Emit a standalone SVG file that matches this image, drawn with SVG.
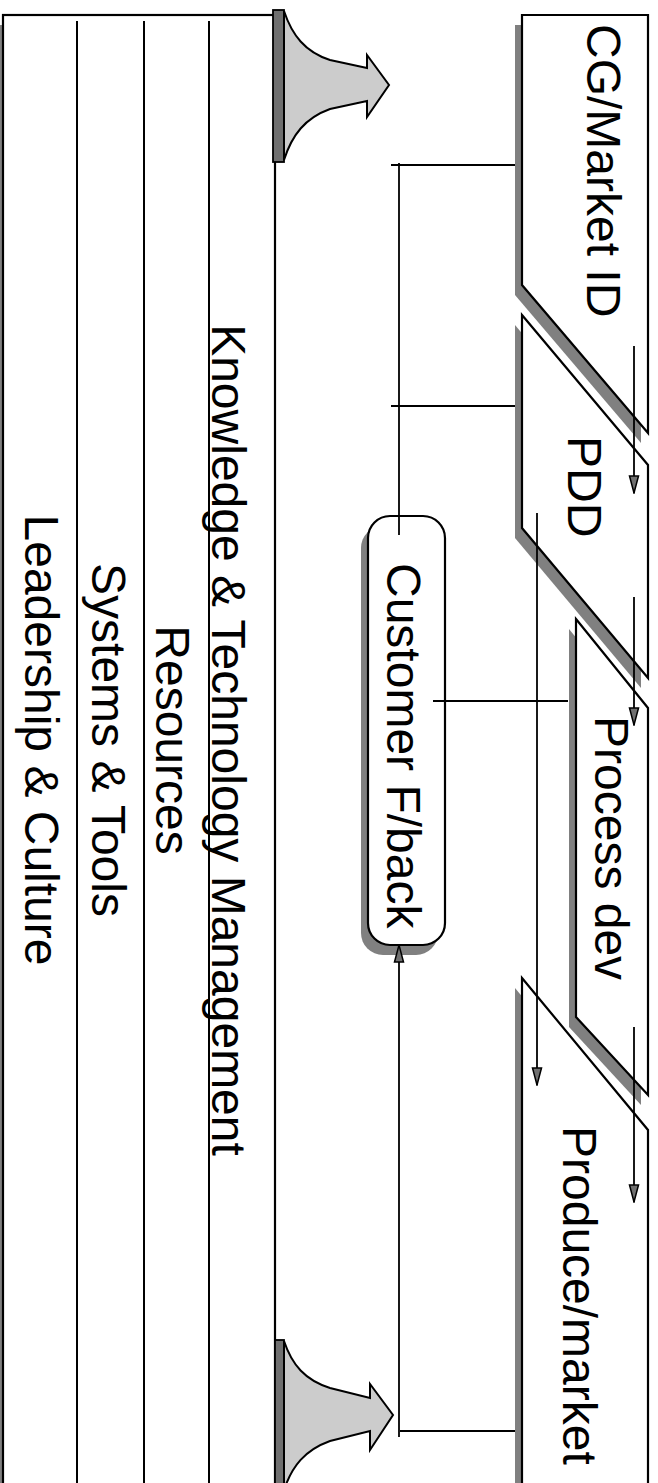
<svg xmlns="http://www.w3.org/2000/svg" width="658" height="1483" viewBox="0 0 658 1483">
<defs>
<style>
.box{fill:#fff;stroke:#000;stroke-width:2.2;stroke-linejoin:miter}
.shadow{fill:#808080;stroke:none}
.lbl{font-family:"Liberation Sans",Arial,sans-serif;font-size:48px;fill:#000}
.sep{stroke:#000;stroke-width:2;fill:none}
.bar{fill:#707070;stroke:#000;stroke-width:1.8}
.funnel{fill:#cccccc;stroke:#000;stroke-width:2;stroke-linejoin:miter}
.conn{stroke:#000;stroke-width:1.8;fill:none}
.arr{marker-end:url(#ah)}
</style>
<marker id="ah" markerUnits="userSpaceOnUse" viewBox="0 0 19 12" refX="18" refY="6" markerWidth="19" markerHeight="12" orient="auto">
<path d="M1,1.5 L18,6 L1,10.5 Z" fill="#707070" stroke="#000" stroke-width="1.5"/>
</marker>
</defs>
<rect width="658" height="1483" fill="#fff"/>

<g id="foundation">
<rect class="shadow" x="-4" y="25" width="272" height="1480"/>
<rect class="box" x="3" y="15" width="272" height="1490"/>
<line class="sep" x1="77" y1="21" x2="77" y2="1490"/>
<line class="sep" x1="144" y1="21" x2="144" y2="1490"/>
<line class="sep" x1="209" y1="21" x2="209" y2="1490"/>
<text class="lbl" text-anchor="middle" transform="translate(212,740) rotate(90)">Knowledge &amp; Technology Management</text>
<text class="lbl" text-anchor="middle" transform="translate(156,740) rotate(90)">Resources</text>
<text class="lbl" text-anchor="middle" transform="translate(92,740) rotate(90)">Systems &amp; Tools</text>
<text class="lbl" text-anchor="middle" transform="translate(25,740) rotate(90)">Leadership &amp; Culture</text>
</g>

<g id="arrow-top">
<rect class="bar" x="273" y="10" width="11" height="152"/>
<path class="funnel" d="M284,11 C292,35 305,52 330,60 L367,68 L367,55 L389,85 L367,117 L367,101 L330,109 C305,118 292,135 284,160 Z"/>
</g>

<g id="arrow-bottom">
<rect class="bar" x="275" y="1340" width="9" height="160"/>
<path class="funnel" d="M284,1341 C292,1365 305,1380 330,1388 L370,1398 L370,1384 L393,1415 L370,1450 L370,1431 L330,1441 C305,1450 292,1466 284,1490 Z"/>
</g>

<g id="cg-market-id">
<polygon class="shadow" points="515,25 641,25 641,443 515,295"/>
<polygon class="box" points="522,15 648,15 648,433 522,285"/>
<text class="lbl" transform="translate(587,24) rotate(90)">CG/Market ID</text>
</g>

<g id="pdd">
<polygon class="shadow" points="515,325 641,475 641,688 515,538"/>
<polygon class="box" points="522,315 648,465 648,678 522,528"/>
<text class="lbl" transform="translate(568,436) rotate(90)">PDD</text>
</g>

<g id="process-dev">
<polygon class="shadow" points="569,629 641,718 641,1105 569,1027"/>
<polygon class="box" points="576,619 648,708 648,1095 576,1017"/>
<text class="lbl" transform="translate(595,716) rotate(90)">Process dev</text>
</g>

<g id="produce-market">
<polygon class="shadow" points="515,988 641,1140 641,1500 515,1500"/>
<polygon class="box" points="522,978 648,1130 648,1500 522,1500"/>
<text class="lbl" transform="translate(563,1126) rotate(90)">Produce/market</text>
</g>

<g id="customer-feedback">
<rect class="shadow" x="361" y="526" width="77" height="429" rx="22" ry="22"/>
<rect class="box" x="368" y="516" width="77" height="429" rx="22" ry="22"/>
<text class="lbl" transform="translate(387,563) rotate(90)">Customer F/back</text>
</g>

<g id="connectors">
<line class="conn" x1="391" y1="165" x2="515" y2="165"/>
<line class="conn" x1="391" y1="406" x2="515" y2="406"/>
<line class="conn" x1="399" y1="163" x2="399" y2="535"/>
<line class="conn" x1="433" y1="701" x2="568" y2="701"/>
<line class="conn arr" x1="537" y1="513" x2="537" y2="1085"/>
<line class="conn arr" x1="634" y1="346" x2="634" y2="493"/>
<line class="conn arr" x1="634" y1="597" x2="634" y2="725"/>
<line class="conn arr" x1="634" y1="1027" x2="634" y2="1202"/>
<line class="conn" x1="400" y1="1431" x2="515" y2="1431"/>
<line class="conn arr" x1="399" y1="1437" x2="399" y2="945"/>
</g>
</svg>
